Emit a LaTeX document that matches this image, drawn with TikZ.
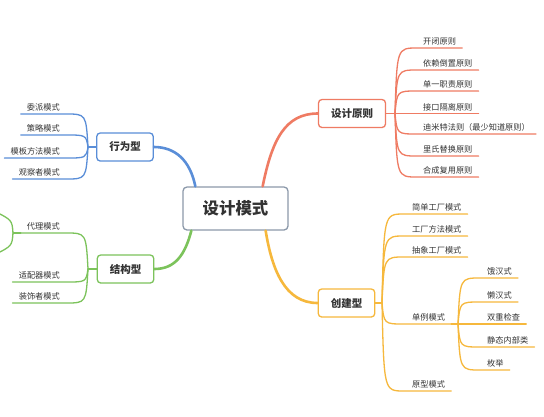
\documentclass[tikz,border=0pt]{standalone}
\usepackage{fontspec}
\setmainfont{Noto Sans CJK SC}
\usetikzlibrary{calc}
\definecolor{cred}{HTML}{EF7B63}
\definecolor{cblue}{HTML}{5A8ED8}
\definecolor{cgreen}{HTML}{7CC35B}
\definecolor{corange}{HTML}{F6B83C}
\definecolor{cgray}{HTML}{8C99AA}
\definecolor{textc}{HTML}{333333}
\tikzset{
  leaf/.style={inner sep=0pt, font=\fontsize{8.2}{9}\selectfont, text=textc},
  mainbox/.style={draw, fill=white, rounded corners=3.5pt, line width=1.3pt,
    font=\fontsize{10.5}{12}\selectfont\bfseries, text=textc, minimum height=28pt, inner xsep=12.5pt},
  centerbox/.style={draw=cgray, fill=white, rounded corners=4pt, line width=1.3pt,
    font=\fontsize{16.4}{18}\selectfont\bfseries, text=textc, minimum height=43pt, minimum width=105pt},
  thinline/.style={line width=1.3pt, line cap=round},
  thickline/.style={line width=2.6pt, line cap=round},
}
\newcommand\rleaf[6]{%
  \node[leaf,anchor=base west] (#1) at (#3,#4-3.5) {#5};
  \coordinate (#1e) at ($(#1.base east)+(6,3.5)$);
  \draw[thinline,#6] (#2) .. controls ($(#2|-#1e)+(2,0)$) .. ($(#2|-#1e)+(22,0)$) -- (#1e);
}
\newcommand\lleaf[6]{%
  \node[leaf,anchor=base east] (#1) at (#3,#4-3.5) {#5};
  \coordinate (#1e) at ($(#1.base west)+(-6,3.5)$);
  \draw[thinline,#6] (#2) .. controls ($(#2|-#1e)+(-2,0)$) .. ($(#2|-#1e)+(-22,0)$) -- (#1e);
}
\begin{document}
\begin{tikzpicture}[x=1pt,y=-1pt]
\useasboundingbox (0,0) rectangle (544,416);
\clip (0,0) rectangle (544,416);
\fill[white] (0,0) rectangle (544,416);

% main nodes
\node[centerbox] (c) at (235.5,208.5) {设计模式};
\node[mainbox, draw=cred] (p) at (352,113.5) {设计原则};
\node[mainbox, draw=cblue] (b) at (125,147) {行为型};
\node[mainbox, draw=cgreen] (s) at (125.5,269) {结构型};
\node[mainbox, draw=corange] (k) at (346.5,303) {创建型};

% main connectors
\draw[thickline,cred] ($(c.north east)+(-26,0)$) .. controls (272,140) and (285,113.5) .. (p.west);
\draw[thickline,cblue] ($(c.north west)+(13,0)$) .. controls (190,160) and (175,147) .. (b.east);
\draw[thickline,cgreen] ($(c.south west)+(9,0)$) .. controls (185,255) and (175,269) .. (s.east);
\draw[thickline,corange] ($(c.south east)+(-23,0)$) .. controls (272,270) and (285,303) .. (k.west);

% branch points
\coordinate (pb) at (395,113.5);
\coordinate (bb) at (88,147);
\coordinate (sb) at (88,269);
\coordinate (kb) at (382,303);
\draw[thinline,cred] (p.east) -- (pb);
\draw[thinline,cblue] (b.west) -- (bb);
\draw[thinline,cgreen] (s.west) -- (sb);
\draw[thinline,corange] (k.east) -- (kb);

% design principles
\rleaf{p1}{pb}{423}{48}{开闭原则}{cred}
\rleaf{p2}{pb}{423}{70}{依赖倒置原则}{cred}
\rleaf{p3}{pb}{423}{91}{单一职责原则}{cred}
\rleaf{p4}{pb}{423}{113.5}{接口隔离原则}{cred}
\rleaf{p5}{pb}{423}{134}{迪米特法则（最少知道原则）}{cred}
\rleaf{p6}{pb}{423}{156}{里氏替换原则}{cred}
\rleaf{p7}{pb}{423}{177}{合成复用原则}{cred}

% behavioural
\lleaf{b1}{bb}{60}{114}{委派模式}{cblue}
\lleaf{b2}{bb}{60}{135}{策略模式}{cblue}
\lleaf{b3}{bb}{60}{158}{模板方法模式}{cblue}
\lleaf{b4}{bb}{60}{179}{观察者模式}{cblue}

% structural
\lleaf{s1}{sb}{60}{233}{代理模式}{cgreen}
\lleaf{s2}{sb}{60}{282}{适配器模式}{cgreen}
\lleaf{s3}{sb}{60}{303}{装饰者模式}{cgreen}
\coordinate (s1b) at (13,233);
\draw[thinline,cgreen] (s1e) -- (s1b);
\draw[thinline,cgreen] (s1b) .. controls (12,220) .. (-6,211);
\draw[thinline,cgreen] (s1b) .. controls (12,246) .. (-6,255);

% creational
\rleaf{k1}{kb}{412}{214}{简单工厂模式}{corange}
\rleaf{k2}{kb}{412}{236}{工厂方法模式}{corange}
\rleaf{k3}{kb}{412}{257}{抽象工厂模式}{corange}
\rleaf{k4}{kb}{412}{324}{单例模式}{corange}
\rleaf{k5}{kb}{412}{391}{原型模式}{corange}
\coordinate (k4b) at (458,324);
\draw[thinline,corange] (k4e) -- (k4b);
\rleaf{d1}{k4b}{487}{278}{饿汉式}{corange}
\rleaf{d2}{k4b}{487}{302}{懒汉式}{corange}
\rleaf{d3}{k4b}{487}{324}{双重检查}{corange}
\rleaf{d4}{k4b}{487}{347}{静态内部类}{corange}
\rleaf{d5}{k4b}{487}{370}{枚举}{corange}
\end{tikzpicture}
\end{document}
